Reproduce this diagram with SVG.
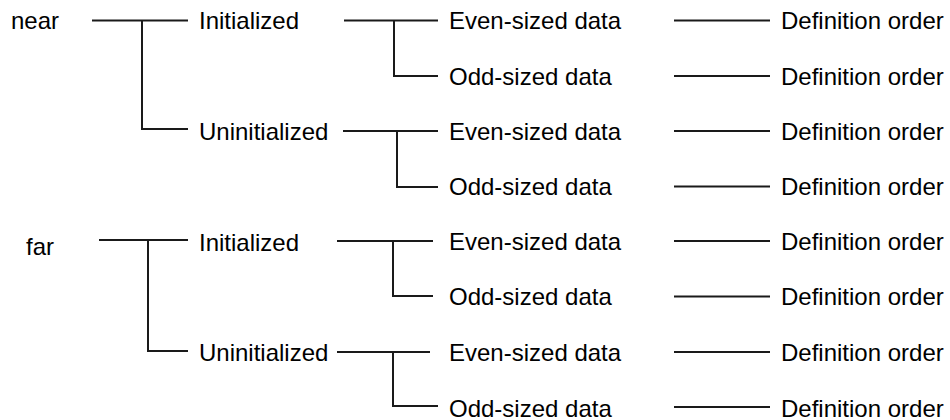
<svg xmlns="http://www.w3.org/2000/svg" width="950" height="420" viewBox="0 0 950 420">
<style>
text{font-family:"Liberation Sans",Arial,sans-serif;font-size:24px;fill:#000}
.c{fill:none;stroke:#1a1a1a;stroke-width:2}
</style>
<rect width="950" height="420" fill="#fff"/>
<g id="connectors">
<path class="c" d="M92 20.5H188M142 20.5V129H188"/>
<path class="c" d="M99 240H188M148 240V351H188"/>
<path class="c" d="M344 20.5H438M394 20.5V76H438"/>
<path class="c" d="M343 131H438M397 131V187H438"/>
<path class="c" d="M337 241H433M393 241V296H433"/>
<path class="c" d="M337 352H430M393 352V406H438"/>
<path class="c" d="M674 20.5H770M674 76H770M674 131H770M674 186.5H770M674 241H770M674 296.5H770M674 352H770M674 407H770"/>
</g>
<g id="near"><text x="11" y="29">near</text></g>
<g id="far"><text x="26" y="255">far</text></g>
<g id="near-init"><text x="199" y="29">Initialized</text></g>
<g id="near-uninit"><text x="199" y="140">Uninitialized</text></g>
<g id="far-init"><text x="199" y="251">Initialized</text></g>
<g id="far-uninit"><text x="199" y="361">Uninitialized</text></g>
<g id="n-i-even"><text x="449" y="29">Even-sized data</text></g>
<g id="n-i-odd"><text x="449" y="85">Odd-sized data</text></g>
<g id="n-u-even"><text x="449" y="140">Even-sized data</text></g>
<g id="n-u-odd"><text x="449" y="195">Odd-sized data</text></g>
<g id="f-i-even"><text x="449" y="250">Even-sized data</text></g>
<g id="f-i-odd"><text x="449" y="305">Odd-sized data</text></g>
<g id="f-u-even"><text x="449" y="361">Even-sized data</text></g>
<g id="f-u-odd"><text x="449" y="416.5">Odd-sized data</text></g>
<g id="order1"><text x="781" y="29">Definition order</text></g>
<g id="order2"><text x="781" y="85">Definition order</text></g>
<g id="order3"><text x="781" y="140">Definition order</text></g>
<g id="order4"><text x="781" y="195">Definition order</text></g>
<g id="order5"><text x="781" y="250">Definition order</text></g>
<g id="order6"><text x="781" y="305">Definition order</text></g>
<g id="order7"><text x="781" y="361">Definition order</text></g>
<g id="order8"><text x="781" y="416.5">Definition order</text></g>
</svg>
